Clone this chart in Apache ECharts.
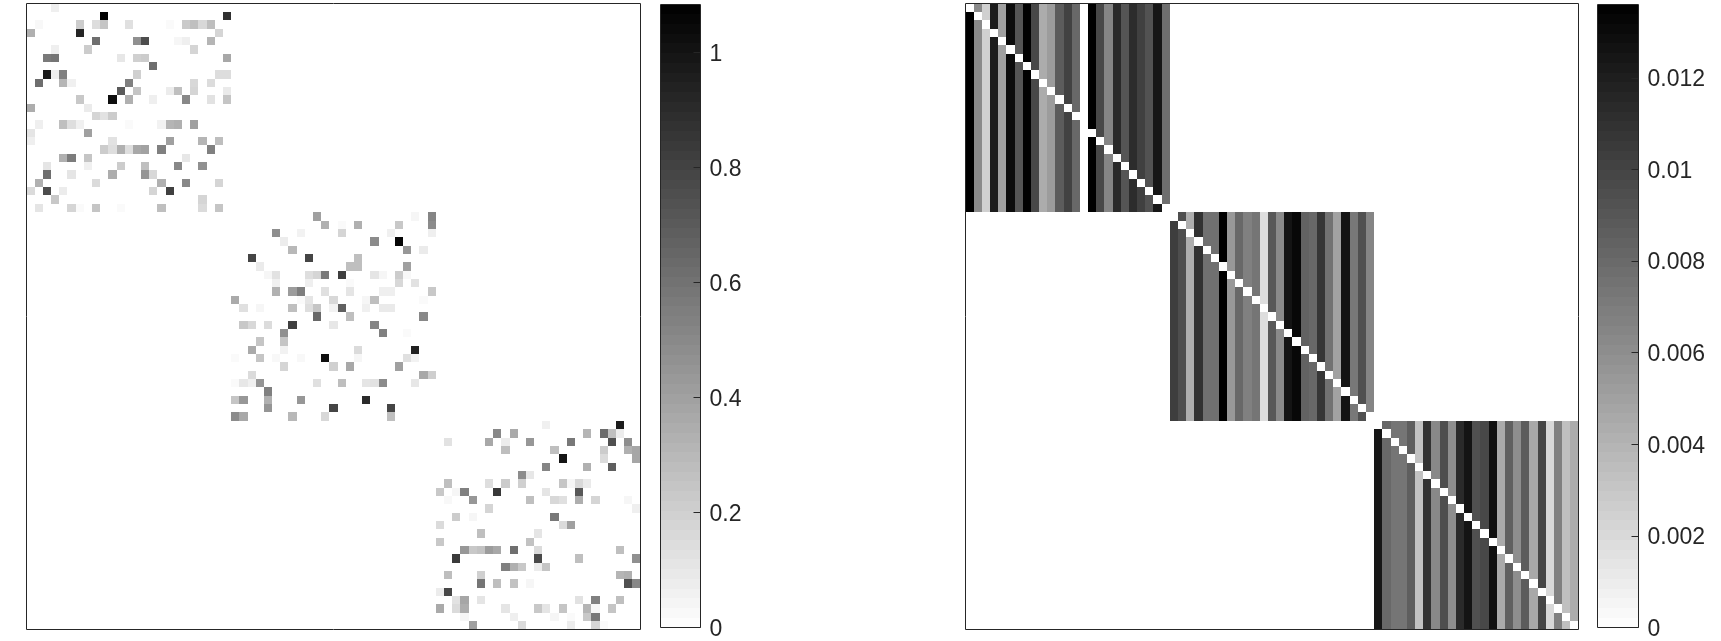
<!DOCTYPE html>
<html>
<head>
<meta charset="utf-8">
<title>matrix</title>
<script src="https://cdn.jsdelivr.net/npm/echarts@6/dist/echarts.min.js"></script>
<style>
html, body { margin: 0; padding: 0; background: #fff; }
#main { width: 1721px; height: 641px; }
</style>
</head>
<body>
<div id="main"></div>
<script>
// left matrix, one list per block: [col, row, value] counted from the block corner
var leftBlockOne = [
  [3,0,.07],
  [9,1,1.08],[24,1,.88],
  [1,2,.03],[6,2,.215],[8,2,.145],[9,2,.245],[12,2,.13],[17,2,.02],[19,2,.225],[20,2,.27],[21,2,.165],[22,2,.275],
  [0,3,.335],[6,3,.925],[23,3,.18],
  [8,4,.615],[13,4,.47],[14,4,.755],[18,4,.04],[19,4,.07],[22,4,.315],
  [3,5,.07],[7,5,.215],[20,5,.18],
  [2,6,.565],[3,6,.585],[11,6,.10],[13,6,.20],[14,6,.215],[24,6,.37],
  [15,7,.615],
  [2,8,.97],[3,8,.07],[4,8,.54],[13,8,.20],[23,8,.145],[24,8,.145],
  [1,9,.615],[4,9,.315],[5,9,.065],[12,9,.54],[20,9,.165],[22,9,.15],
  [11,10,.70],[13,10,.245],[17,10,.08],[18,10,.27],[20,10,.18],[24,10,.09],
  [6,11,.235],[10,11,1.025],[12,11,.335],[15,11,.07],[19,11,.505],[22,11,.125],[24,11,.245],
  [0,12,.35],[7,12,.085],
  [8,13,.18],[9,13,.125],[10,13,.215],
  [1,14,.07],[4,14,.27],[5,14,.14],[6,14,.065],[12,14,.02],[16,14,.055],[17,14,.315],[18,14,.335],[20,14,.405],
  [0,15,.11],[7,15,.405],
  [0,16,.07],[10,16,.125],[17,16,.405],[21,16,.315],[23,16,.275],
  [9,17,.215],[10,17,.14],[11,17,.335],[12,17,.14],[13,17,.37],[14,17,.395],[16,17,.54],[22,17,.54],
  [4,18,.335],[5,18,.555],[7,18,.245],[19,18,.10],
  [2,19,.11],[7,19,.065],[11,19,.215],[14,19,.27],[18,19,.505],[21,19,.47],
  [2,20,.615],[5,20,.11],[10,20,.35],[14,20,.45],[15,20,.165],
  [1,21,.335],[8,21,.155],[16,21,.335],[19,21,.505],[23,21,.18],
  [0,22,.155],[2,22,.76],[4,22,.08],[15,22,.18],[17,22,.81],
  [3,23,.235],[21,23,.18],
  [1,24,.11],[5,24,.18],[6,24,.02],[8,24,.245],[11,24,.02],[16,24,.27],[21,24,.155],[23,24,.245]
]
var leftBlockTwo = [
  [10,0,.405],[22,0,.04],[24,0,.52],
  [11,1,.335],[13,1,.02],[15,1,.335],[20,1,.235],[24,1,.495],
  [5,2,.48],[8,2,.055],[13,2,.18],[19,2,.065],[24,2,.07],
  [6,3,.08],[17,3,.495],[20,3,1.06],
  [7,4,.30],[21,4,.44],[23,4,.085],
  [2,5,.79],[9,5,.79],[15,5,.27],
  [3,6,.085],[14,6,.27],[15,6,.27],[21,6,.405],
  [4,7,.04],[5,7,.125],[9,7,.14],[10,7,.18],[11,7,.565],[13,7,.82],[17,7,.11],[18,7,.04],[20,7,.215],[21,7,.03],
  [5,8,.065],[9,8,.07],[14,8,.02],[20,8,.165],[22,8,.125],
  [5,9,.33],[7,9,.42],[8,9,.55],[11,9,.13],[14,9,.11],[18,9,.07],[19,9,.07],[24,9,.235],
  [0,10,.36],[8,10,.02],[9,10,.11],[12,10,.165],[16,10,.04],[17,10,.27],[23,10,.02],
  [1,11,.13],[3,11,.04],[7,11,.27],[9,11,.14],[10,11,.245],[12,11,.055],[13,11,.675],[16,11,.065],[18,11,.09],[19,11,.09],
  [10,12,.64],[14,12,.27],[23,12,.505],
  [1,13,.235],[2,13,.165],[4,13,.15],[7,13,.81],[12,13,.10],[17,13,.52],
  [6,14,.47],[18,14,.54],[21,14,.02],
  [3,15,.245],[6,15,.245],
  [2,16,.36],[6,16,.055],[15,16,.155],[22,16,.945],
  [0,17,.02],[3,17,.245],[5,17,.03],[8,17,.03],[11,17,1.025],[15,17,.04],[21,17,.13],[22,17,.055],
  [6,18,.18],[12,18,.20],[14,18,.37],[20,18,.405],
  [2,19,.155],[23,19,.37],[24,19,.21],
  [0,20,.02],[1,20,.10],[2,20,.065],[3,20,.45],[10,20,.13],[13,20,.275],[16,20,.11],[17,20,.125],[18,20,.495],[22,20,.10],
  [4,21,.54],
  [0,22,.245],[1,22,.44],[4,22,.335],[8,22,.44],[16,22,.905],
  [4,23,.45],[12,23,.79],[19,23,.79],
  [0,24,.49],[1,24,.37],[7,24,.30],[11,24,.165],[19,24,.27]
]
var leftBlockThree = [
  [13,0,.065],[22,0,.965],
  [7,1,.505],[9,1,.36],[18,1,.315],[20,1,.625],[21,1,.27],[22,1,.08],
  [1,2,.125],[6,2,.37],[8,2,.08],[11,2,.44],[16,2,.575],[21,2,.745],[23,2,.48],
  [8,3,.275],[14,3,.27],[20,3,.215],[23,3,.335],[24,3,.38],
  [15,4,.995],[20,4,.155],[24,4,.38],
  [13,5,.52],[18,5,.335],[21,5,.685],
  [10,6,.49],[11,6,.10],
  [1,7,.27],[6,7,.14],[8,7,.215],[10,7,.20],[15,7,.245],[16,7,.04],[17,7,.165],[18,7,.09],
  [0,8,.235],[2,8,.04],[3,8,.54],[7,8,.845],[13,8,.11],[17,8,.71],
  [1,9,.03],[4,9,.44],[11,9,.27],[14,9,.165],[15,9,.13],[17,9,.345],[19,9,.18],[23,9,.04],
  [6,10,.18],[24,10,.07],
  [2,11,.215],[4,11,.04],[14,11,.575],
  [0,12,.155],[15,12,.155],[16,12,.405],
  [5,13,.27],[12,13,.11],
  [0,14,.235],[11,14,.26],
  [3,15,.44],[4,15,.235],[5,15,.26],[6,15,.42],[7,15,.37],[9,15,.61],[12,15,.155],[22,15,.27],
  [2,16,.835],[12,16,.77],[17,16,.27],[24,16,.47],
  [8,17,.54],[9,17,.335],[10,17,.235],[12,17,.08],[13,17,.245],
  [1,18,.275],[5,18,.20],[22,18,.315],[23,18,.335],
  [5,19,.585],[7,19,.27],[9,19,.26],[11,19,.04],[23,19,.745],[24,19,.505],
  [0,20,.08],[1,20,.78],
  [2,21,.125],[3,21,.38],[5,21,.11],[17,21,.125],[19,21,.54],[22,21,.27],
  [0,22,.36],[2,22,.155],[3,22,.35],[8,22,.11],[12,22,.235],[13,22,.11],[15,22,.245],[18,22,.315],[19,22,.04],[21,22,.245],
  [3,23,.04],[9,23,.07],[14,23,.04],[16,23,.02],[18,23,.235],[19,23,.575],
  [4,24,.405],[10,24,.155],[16,24,.08],[19,24,.18],[20,24,.02]
]

// right matrix, value of each column in a block (diagonal stays empty)
var rightColsOne = [.0136,.00624,.00251,.01211,.00507,.01296,.00907,.01349,.00976,.00443,.00528,.00869,.01008,.00805,0,.0136,.00976,.00651,.01136,.00907,.01125,.01019,.00923,.01243,.00773]
var rightColsTwo = [.01029,.00944,.00432,.01093,.00763,.00763,.0136,.00549,.00805,.00677,.00736,.00176,.00891,.00624,.01253,.01317,.00837,.00805,.01072,.00752,.00496,.01253,.0072,.00933,.00651]
var rightColsThree = [.01243,.00805,.00736,.00736,.00859,.00325,.01093,.00635,.00944,.00603,.01136,.01253,.00933,.00976,.01275,.00453,.00848,.00603,.00869,.00464,.00987,.00208,.00677,.00336,.00443]

var leftMax = 1.0838
var rightMax = 0.0136
var leftTickStep = 0.2
var rightTickStep = 0.002
var barLevels = 64
var blockSize = 25
var matrixSize = 75
var textColor = '#262626'

var matrixIds = []
for (var i = 0; i < matrixSize; i++) {
  matrixIds.push(i)
}
var barIds = []
for (var k = 0; k < barLevels; k++) {
  barIds.push(k)
}

function leftCells() {
  var out = []
  ;[leftBlockOne, leftBlockTwo, leftBlockThree].forEach(function(block, b) {
    block.forEach(function(c) {
      out.push([c[0] + b * blockSize, c[1] + b * blockSize, c[2]])
    })
  })
  return out
}

function rightCells() {
  var out = []
  ;[rightColsOne, rightColsTwo, rightColsThree].forEach(function(cols, b) {
    cols.forEach(function(v, col) {
      if (!v) return
      for (var row = 0; row < blockSize; row++) {
        if (row !== col) {
          out.push([col + b * blockSize, row + b * blockSize, v])
        }
      }
    })
  })
  return out
}

function barCells(max) {
  return barIds.map(function(k) {
    return [0, k, ((k + 0.5) / barLevels) * max]
  })
}

// heatmap rounds every cell up to whole pixels, so the cells are drawn here
// edge to edge, with the edges snapped so neighbours leave no seam
function drawCell(params, api) {
  var center = api.coord([api.value(0), api.value(1)])
  var size = api.size([1, 1])
  var x0 = Math.round(center[0] - size[0] / 2)
  var x1 = Math.round(center[0] + size[0] / 2)
  var y0 = Math.round(center[1] - size[1] / 2)
  var y1 = Math.round(center[1] + size[1] / 2)
  return {
    type: 'rect',
    shape: { x: x0, y: y0, width: x1 - x0, height: y1 - y0 },
    style: { fill: api.visual('color') }
  }
}

function matrixX(grid) {
  return { gridIndex: grid, type: 'category', data: matrixIds, show: false }
}
function matrixY(grid) {
  return { gridIndex: grid, type: 'category', data: matrixIds, inverse: true, show: false }
}
function barX(grid) {
  return { gridIndex: grid, type: 'category', data: ['level'], show: false }
}
function barY(grid) {
  return { gridIndex: grid, type: 'category', data: barIds, show: false }
}
function barScale(grid, max, step) {
  return {
    gridIndex: grid,
    type: 'value',
    position: 'right',
    min: 0,
    max: max,
    interval: step,
    z: 6,
    splitLine: { show: false },
    axisLine: { show: false },
    axisTick: { show: true, inside: true, length: 7, lineStyle: { color: textColor, width: 1 } },
    axisLabel: {
      showMaxLabel: false,
      margin: 9,
      // digits sit a little below the tick
      verticalAlign: 'top',
      lineHeight: 4,
      color: textColor,
      fontFamily: 'Liberation Sans',
      fontSize: 23
    }
  }
}
function cells(x, y, data) {
  return {
    type: 'custom',
    xAxisIndex: x,
    yAxisIndex: y,
    data: data,
    renderItem: drawCell,
    encode: { x: 0, y: 1 },
    silent: true
  }
}
function frame(left, top, width, height) {
  return {
    show: true,
    z: 5,
    left: left,
    top: top,
    width: width,
    height: height,
    backgroundColor: 'transparent',
    borderColor: textColor,
    borderWidth: 1
  }
}

var myChart = echarts.init(document.getElementById('main'), null, { renderer: 'canvas' })
myChart.setOption({
  animation: false,
  backgroundColor: '#fff',
  tooltip: { show: false },
  grid: [
    frame(26.5, 3.5, 614, 626),
    frame(660.5, 4.5, 40, 624),
    frame(965.5, 3.5, 613, 626),
    frame(1597.5, 4.5, 41, 624)
  ],
  xAxis: [matrixX(0), barX(1), matrixX(2), barX(3)],
  yAxis: [
    matrixY(0),
    barY(1),
    barScale(1, leftMax, leftTickStep),
    matrixY(2),
    barY(3),
    barScale(3, rightMax, rightTickStep)
  ],
  visualMap: [
    { show: false, type: 'continuous', seriesIndex: [0, 1], dimension: 2, min: 0, max: leftMax, inRange: { color: ['#ffffff', '#000000'] } },
    { show: false, type: 'continuous', seriesIndex: [2, 3], dimension: 2, min: 0, max: rightMax, inRange: { color: ['#ffffff', '#000000'] } }
  ],
  series: [
    cells(0, 0, leftCells()),
    cells(1, 1, barCells(leftMax)),
    cells(2, 3, rightCells()),
    cells(3, 4, barCells(rightMax))
  ]
})
</script>
</body>
</html>
